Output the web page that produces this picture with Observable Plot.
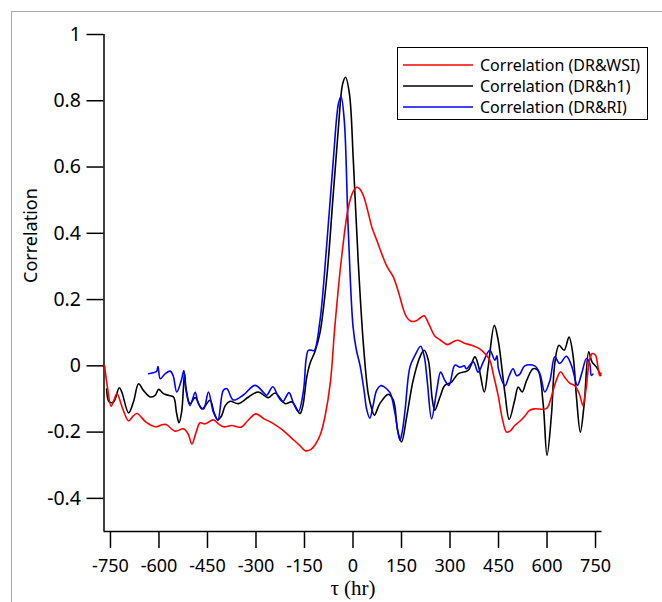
<!DOCTYPE html>
<html>
<head>
<meta charset="utf-8">
<script src="https://cdn.jsdelivr.net/npm/d3@7"></script>
<script src="https://cdn.jsdelivr.net/npm/@observablehq/plot@0.6"></script>
<style>
  html, body { margin: 0; padding: 0; background: #fff; }
  #wrap { position: relative; width: 662px; height: 602px; overflow: hidden; background: #fff; }
  #frame { position: absolute; left: 11px; top: 11px; width: 660px; height: 600px; border: 1px solid #a8a8a8; box-sizing: border-box; }
  #chart { position: absolute; left: 0; top: 0; }
  #legend { position: absolute; left: 397px; top: 47px; width: 251px; height: 73px; border: 1px solid #000; box-sizing: border-box; background: #fff;
            font-family: "Noto Sans", sans-serif; font-size: 16px; color: #000; }
  .row { position: absolute; left: 5px; height: 21px; display: flex; align-items: center; }
  .row svg { width: 70px; height: 4px; margin-right: 7px; }
</style>
</head>
<body>
<div id="wrap">
  <div id="frame"></div>
  <div id="chart"></div>
  <div id="legend"></div>
</div>
<script>
// τ (hr), correlation pairs
const wsi = [[-768,0],[-760,-0.06],[-748,-0.122],[-738,-0.1],[-730,-0.084],[-712,-0.13],[-694,-0.166],[-680,-0.152],[-668,-0.144],[-640,-0.17],[-612,-0.184],[-590,-0.178],[-578,-0.177],[-550,-0.197],[-524,-0.19],[-510,-0.205],[-498,-0.236],[-485,-0.2],[-473,-0.172],[-457,-0.175],[-432,-0.163],[-415,-0.176],[-400,-0.184],[-375,-0.18],[-345,-0.185],[-325,-0.165],[-300,-0.145],[-275,-0.16],[-250,-0.172],[-220,-0.192],[-190,-0.218],[-165,-0.24],[-148,-0.256],[-130,-0.252],[-115,-0.235],[-100,-0.205],[-86,-0.15],[-70,-0.05],[-56,0.12],[-35,0.33],[-14,0.48],[0,0.525],[11,0.539],[20,0.535],[32,0.514],[45,0.47],[58,0.42],[75,0.375],[89,0.338],[105,0.3],[125,0.268],[135,0.24],[145,0.208],[156,0.17],[166,0.147],[178,0.135],[194,0.135],[210,0.146],[220,0.151],[235,0.125],[253,0.09],[270,0.078],[292,0.064],[310,0.073],[325,0.077],[345,0.068],[367,0.062],[385,0.055],[398,0.047],[410,0.035],[423,0.017],[435,-0.03],[449,-0.09],[462,-0.16],[475,-0.2],[488,-0.195],[500,-0.18],[515,-0.168],[531,-0.152],[545,-0.135],[560,-0.13],[598,-0.129],[610,-0.105],[619,-0.074],[630,-0.04],[642,-0.018],[655,-0.035],[670,-0.052],[686,-0.06],[700,-0.085],[711,-0.12],[716,-0.1],[722,-0.06],[732,0.02],[740,0.037],[750,0.032],[757,0],[763,-0.03],[767,-0.022]];

const h1 = [[-762,-0.07],[-754,-0.109],[-740,-0.109],[-723,-0.066],[-715,-0.079],[-694,-0.142],[-679,-0.109],[-663,-0.054],[-648,-0.074],[-627,-0.094],[-612,-0.089],[-601,-0.071],[-586,-0.084],[-571,-0.089],[-555,-0.094],[-546,-0.14],[-538,-0.172],[-530,-0.14],[-524,-0.06],[-521,-0.024],[-516,-0.07],[-504,-0.114],[-488,-0.096],[-467,-0.13],[-442,-0.104],[-430,-0.14],[-418,-0.163],[-406,-0.15],[-395,-0.12],[-380,-0.107],[-354,-0.114],[-323,-0.094],[-293,-0.079],[-262,-0.096],[-241,-0.082],[-210,-0.114],[-189,-0.109],[-164,-0.144],[-155,-0.12],[-143,-0.034],[-133,0.007],[-117,0.045],[-102,0.1],[-81,0.268],[-61,0.519],[-45,0.72],[-32,0.851],[-23,0.871],[-11,0.821],[1,0.62],[16,0.318],[32,0.067],[47,-0.084],[58,-0.13],[66,-0.149],[83,-0.114],[109,-0.086],[125,-0.104],[138,-0.195],[150,-0.23],[166,-0.154],[186,-0.044],[207,0.027],[220,0.047],[233,0.017],[245,-0.1],[253,-0.134],[269,-0.094],[284,-0.059],[305,-0.049],[325,-0.024],[356,-0.014],[377,0.027],[389,-0.004],[406,-0.079],[418,-0.004],[437,0.122],[449,0.077],[470,-0.084],[483,-0.162],[500,-0.104],[511,-0.064],[523,-0.079],[537,-0.044],[557,-0.009],[572,-0.014],[588,-0.114],[600,-0.27],[614,-0.144],[624,0.007],[637,0.062],[653,0.047],[668,0.087],[681,0.027],[691,-0.094],[703,-0.2],[715,-0.114],[729,0.042],[739,0.012],[753,-0.004],[766,-0.029]];

const ri = [[-632,-0.024],[-615,-0.02],[-607,-0.016],[-603,-0.002],[-596,-0.039],[-581,-0.024],[-565,-0.016],[-556,-0.03],[-545,-0.079],[-531,-0.044],[-523,-0.014],[-517,-0.07],[-504,-0.12],[-488,-0.08],[-478,-0.114],[-462,-0.13],[-447,-0.079],[-432,-0.139],[-418,-0.163],[-401,-0.074],[-390,-0.069],[-370,-0.103],[-339,-0.088],[-303,-0.059],[-277,-0.08],[-267,-0.089],[-248,-0.063],[-230,-0.095],[-217,-0.108],[-198,-0.081],[-185,-0.11],[-169,-0.138],[-153,-0.074],[-145,0.02],[-138,0.047],[-128,0.047],[-120,0.046],[-102,0.137],[-81,0.369],[-61,0.62],[-45,0.791],[-37,0.813],[-27,0.741],[-15,0.419],[0,0.12],[10,0.05],[22,0],[35,-0.08],[42,-0.13],[52,-0.158],[62,-0.12],[73,-0.074],[85,-0.06],[94,-0.062],[114,-0.08],[130,-0.144],[145,-0.225],[152,-0.2],[161,-0.134],[176,-0.004],[192,0.032],[209,0.059],[220,0.03],[230,-0.05],[243,-0.16],[259,-0.074],[271,-0.019],[284,-0.044],[297,-0.059],[315,0.002],[331,-0.004],[344,0],[351,-0.009],[372,0.012],[387,-0.019],[403,0.012],[423,0.047],[439,0.017],[445,0.03],[450,-0.01],[470,-0.06],[483,-0.03],[495,-0.009],[506,-0.03],[516,-0.025],[531,0],[562,0],[578,-0.024],[593,-0.079],[609,-0.044],[624,0.027],[639,0.007],[660,0.029],[676,0],[694,-0.059],[707,-0.024],[722,0.022],[732,0.007],[737,-0.029],[742,-0.025]];

const xTicks = [-750,-600,-450,-300,-150,0,150,300,450,600,750];
const yTicks = [-0.4,-0.2,0,0.2,0.4,0.6,0.8,1];
const seriesNames = ["Correlation (DR&WSI)","Correlation (DR&h1)","Correlation (DR&RI)"];
const seriesColors = ["#ff0000","#000000","#0000ff"];
const xLabel = "τ (hr)";
const yLabel = "Correlation";

const lineOpts = (color) => ({x: d => d[0], y: d => d[1], stroke: color, strokeWidth: 1.6, curve: "catmull-rom"});

const chart = Plot.plot({
  width: 662,
  height: 602,
  marginLeft: 103.5,
  marginRight: 60.5,
  marginTop: 34,
  marginBottom: 71,
  style: {fontFamily: "Noto Sans, sans-serif", fontSize: "18px", color: "#000", background: "transparent", overflow: "visible"},
  x: {domain: [-770, 770]},
  y: {domain: [-0.5, 1]},
  marks: [
    Plot.axisX({ticks: xTicks, tickSize: 17, tickPadding: 11, tickFormat: d => String(d), label: null, strokeWidth: 1.5, fontSize: 18}),
    Plot.axisY({ticks: yTicks, tickSize: 17, tickPadding: 6, tickFormat: d => String(d), label: null, strokeWidth: 1.5, fontSize: 19.5}),
    Plot.ruleY([-0.5], {stroke: "#000", strokeWidth: 1.5}),
    Plot.ruleX([-770], {stroke: "#000", strokeWidth: 1.5}),
    Plot.line(h1, lineOpts(seriesColors[1])),
    Plot.line(ri, lineOpts(seriesColors[2])),
    Plot.line(wsi, lineOpts(seriesColors[0])),
    Plot.text([xLabel], {frameAnchor: "bottom", lineAnchor: "middle", dy: 57, fontFamily: "Liberation Serif, serif", fontSize: 21, fill: "#000"}),
    Plot.text([yLabel], {frameAnchor: "left", dx: -73, rotate: -90, fontSize: 18, fill: "#000"})
  ]
});
document.getElementById("chart").appendChild(chart);

const legend = document.getElementById("legend");
seriesNames.forEach((name, i) => {
  const row = document.createElement("div");
  row.className = "row";
  row.style.top = (6 + i * 21) + "px";
  row.innerHTML = `<svg viewBox="0 0 70 4"><line x1="0" y1="2" x2="70" y2="2" stroke="${seriesColors[i]}" stroke-width="1.6"/></svg>`;
  const span = document.createElement("span");
  span.textContent = name;
  row.appendChild(span);
  legend.appendChild(row);
});
</script>
</body>
</html>
